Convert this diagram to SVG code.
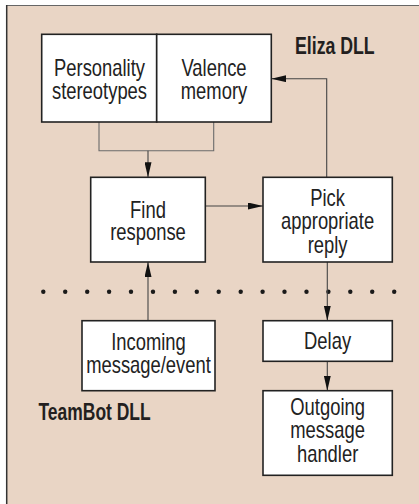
<svg xmlns="http://www.w3.org/2000/svg" width="419" height="504" viewBox="0 0 419 504">
  <style>
    .box { fill: #ffffff; stroke: #222222; stroke-width: 1.6; }
    .t { font-family: "Liberation Sans", Arial, sans-serif; font-size: 23px; fill: #222222; text-anchor: middle; }
    .lbl { font-family: "Liberation Sans", Arial, sans-serif; font-size: 23px; font-weight: bold; fill: #231f20; }
    .wire { fill: none; stroke: #444444; stroke-width: 1.1; }
    .bracket { fill: none; stroke: #6b6b6b; stroke-width: 1.1; }
    .dot { fill: #1a1a1a; }
  </style>
  <defs>
    <marker id="arrow" markerUnits="userSpaceOnUse" markerWidth="15" markerHeight="7" refX="15" refY="3.5" orient="auto">
      <path d="M0,0 L15,3.5 L0,7 z" fill="#111111"/>
    </marker>
  </defs>

  <!-- sidebar panel -->
  <rect x="6" y="5" width="413" height="499" fill="#e9d5c5"/>
  <line x1="6" y1="5.5" x2="419" y2="5.5" stroke="#666666" stroke-width="1"/>
  <line x1="6.7" y1="5" x2="6.7" y2="504" stroke="#333333" stroke-width="1.5"/>

  <!-- module labels -->
  <text class="lbl" transform="translate(295,54) scale(0.77,1)">Eliza DLL</text>
  <text class="lbl" transform="translate(38.5,420) scale(0.76,1)">TeamBot DLL</text>

  <!-- boundary between the two DLLs -->
  <g id="boundary">
    <circle class="dot" cx="43.3" cy="291.7" r="2.2"/>
    <circle class="dot" cx="65.2" cy="291.7" r="2.2"/>
    <circle class="dot" cx="87.2" cy="291.7" r="2.2"/>
    <circle class="dot" cx="109.1" cy="291.7" r="2.2"/>
    <circle class="dot" cx="131.0" cy="291.7" r="2.2"/>
    <circle class="dot" cx="153.0" cy="291.7" r="2.2"/>
    <circle class="dot" cx="174.9" cy="291.7" r="2.2"/>
    <circle class="dot" cx="196.8" cy="291.7" r="2.2"/>
    <circle class="dot" cx="218.7" cy="291.7" r="2.2"/>
    <circle class="dot" cx="240.7" cy="291.7" r="2.2"/>
    <circle class="dot" cx="262.6" cy="291.7" r="2.2"/>
    <circle class="dot" cx="284.5" cy="291.7" r="2.2"/>
    <circle class="dot" cx="306.5" cy="291.7" r="2.2"/>
    <circle class="dot" cx="328.4" cy="291.7" r="2.2"/>
    <circle class="dot" cx="350.3" cy="291.7" r="2.2"/>
    <circle class="dot" cx="372.2" cy="291.7" r="2.2"/>
    <circle class="dot" cx="394.2" cy="291.7" r="2.2"/>
  </g>

  <!-- connectors -->
  <g id="connectors">
    <path class="bracket" d="M99,122 V150.7 H213.7 V122"/>
    <path class="wire" d="M148,150.7 V177.3" marker-end="url(#arrow)"/>
    <path class="wire" d="M205.3,206 H263" marker-end="url(#arrow)"/>
    <path class="wire" d="M326.7,177.3 V78.7 H271.3" marker-end="url(#arrow)"/>
    <path class="wire" d="M148,320.7 V262" marker-end="url(#arrow)"/>
    <path class="wire" d="M327.3,262 V320.7" marker-end="url(#arrow)"/>
    <path class="wire" d="M327.3,361.3 V390.7" marker-end="url(#arrow)"/>
  </g>

  <!-- nodes -->
  <g id="personality">
    <rect class="box" x="41.7" y="34.3" width="115" height="87.7"/>
    <text class="t" transform="translate(99.5,76.3) scale(0.8,1)">Personality<tspan x="0" dy="23">stereotypes</tspan></text>
  </g>
  <g id="valence">
    <rect class="box" x="156.7" y="34.3" width="114.6" height="87.7"/>
    <text class="t" transform="translate(214,76.3) scale(0.8,1)">Valence<tspan x="0" dy="23">memory</tspan></text>
  </g>
  <g id="find">
    <rect class="box" x="90.7" y="177.3" width="114.6" height="84.7"/>
    <text class="t" transform="translate(148,217.5) scale(0.8,1)">Find<tspan x="0" dy="23">response</tspan></text>
  </g>
  <g id="pick">
    <rect class="box" x="263" y="177.3" width="129.3" height="84.7"/>
    <text class="t" transform="translate(327.6,206) scale(0.8,1)">Pick<tspan x="0" dy="23.3">appropriate</tspan><tspan x="0" dy="23.3">reply</tspan></text>
  </g>
  <g id="incoming">
    <rect class="box" x="82" y="320.7" width="133" height="70"/>
    <text class="t" transform="translate(148.5,350) scale(0.8,1)">Incoming<tspan x="0" dy="23.3">message/event</tspan></text>
  </g>
  <g id="delay">
    <rect class="box" x="263" y="320.7" width="129.3" height="40.6"/>
    <text class="t" transform="translate(327.6,348.5) scale(0.8,1)">Delay</text>
  </g>
  <g id="outgoing">
    <rect class="box" x="263" y="390.7" width="129.3" height="84.6"/>
    <text class="t" transform="translate(327.6,415) scale(0.8,1)">Outgoing<tspan x="0" dy="23.3">message</tspan><tspan x="0" dy="23.3">handler</tspan></text>
  </g>
</svg>
